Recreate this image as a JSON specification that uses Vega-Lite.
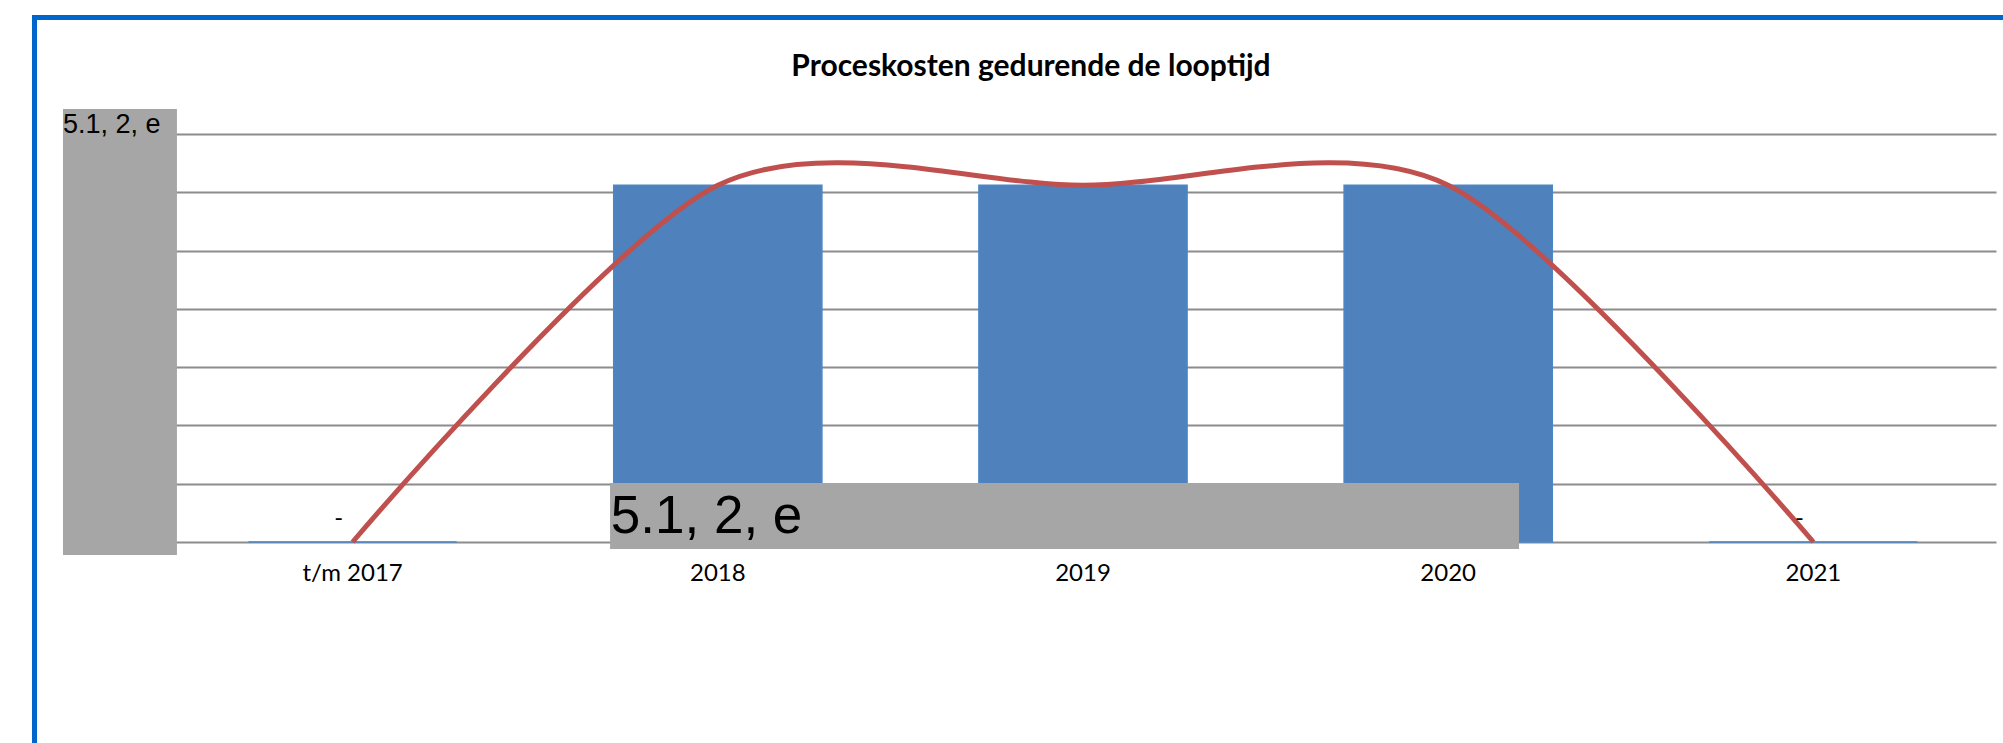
{
  "$schema": "https://vega.github.io/schema/vega-lite/v6.json",
  "width": 1826,
  "height": 408,
  "autosize": {"type": "none"},
  "padding": {"left": 170, "top": 134, "right": 7, "bottom": 201},
  "background": "white",
  "config": {"view": {"stroke": null}, "font": "Lato"},
  "title": {
    "text": "Proceskosten gedurende de looptijd",
    "font": "Lato",
    "fontSize": 30,
    "fontWeight": "bold",
    "color": "#000000",
    "anchor": "middle",
    "dx": -52,
    "offset": -67
  },
  "datasets": {
    "kosten": [
      {"jaar": "t/m 2017", "kosten": 0, "label": "-"},
      {"jaar": "2018", "kosten": 6.12, "label": ""},
      {"jaar": "2019", "kosten": 6.12, "label": ""},
      {"jaar": "2020", "kosten": 6.12, "label": ""},
      {"jaar": "2021", "kosten": 0, "label": "-"}
    ],
    "zwartlakking": [
      {"vak": "as", "x1": -0.793, "x2": -0.481, "y1": 7.428, "y2": -0.223, "tx": -0.793, "ty": 7.02, "tekst": "5.1, 2, e"},
      {"vak": "tabel", "x1": 0.705, "x2": 3.194, "y1": 1.012, "y2": -0.12, "tx": 0.707, "ty": 0.154, "tekst": "5.1, 2, e"}
    ],
    "kader": [{"x1": -0.871, "x2": 5.5, "y1": 9.0, "y2": -5}]
  },
  "layer": [
    {
      "data": {"name": "kosten"},
      "encoding": {
        "x": {
          "field": "jaar",
          "type": "nominal",
          "sort": null,
          "scale": {"paddingInner": 0.43, "paddingOuter": 0.215},
          "axis": {
            "title": null,
            "labelAngle": 0,
            "labelFont": "Lato",
            "labelFontSize": 24,
            "labelColor": "#000000",
            "ticks": false,
            "tickSize": 0,
            "domain": false,
            "labelPadding": 19,
            "labelBaseline": "top"
          }
        },
        "y": {
          "field": "kosten",
          "type": "quantitative",
          "scale": {"domain": [0, 7], "nice": false, "zero": true},
          "axis": {
            "title": null,
            "grid": true,
            "gridColor": "#8C8C8C",
            "gridWidth": 2,
            "labels": false,
            "ticks": false,
            "domain": false,
            "values": [0, 1, 2, 3, 4, 5, 6, 7]
          }
        }
      },
      "layer": [
        {
          "mark": {"type": "bar", "color": "#4F81BD", "stroke": "#4A86C8", "strokeWidth": 1.5}
        },
        {
          "mark": {"type": "line", "color": "#C0504D", "strokeWidth": 5, "interpolate": "cardinal", "tension": 0.15}
        },
        {
          "mark": {"type": "text", "font": "Lato", "fontSize": 24, "dx": -14, "dy": -16, "baseline": "alphabetic", "align": "center", "color": "#000000"},
          "encoding": {
            "text": {"field": "label"}
          }
        }
      ]
    },
    {
      "layer": [
        {
          "data": {"name": "zwartlakking"},
          "mark": {"type": "rect", "color": "#A6A6A6"},
          "encoding": {
            "x": {"field": "x1", "type": "quantitative", "scale": {"domain": [-0.5, 4.5], "nice": false, "zero": false}, "axis": null},
            "x2": {"field": "x2"},
            "y": {"field": "y1", "type": "quantitative", "scale": {"domain": [0, 7], "nice": false, "zero": false}, "axis": null},
            "y2": {"field": "y2"}
          }
        },
        {
          "data": {"name": "zwartlakking"},
          "transform": [{"filter": "datum.vak === 'as'"}],
          "mark": {"type": "text", "font": "Liberation Sans", "fontSize": 27, "align": "left", "baseline": "alphabetic", "color": "#000000"},
          "encoding": {
            "x": {"field": "tx", "type": "quantitative", "scale": {"domain": [-0.5, 4.5], "nice": false, "zero": false}, "axis": null},
            "y": {"field": "ty", "type": "quantitative", "scale": {"domain": [0, 7], "nice": false, "zero": false}, "axis": null},
            "text": {"field": "tekst"}
          }
        },
        {
          "data": {"name": "zwartlakking"},
          "transform": [{"filter": "datum.vak === 'tabel'"}],
          "mark": {"type": "text", "font": "Liberation Sans", "fontSize": 53, "align": "left", "baseline": "alphabetic", "color": "#000000"},
          "encoding": {
            "x": {"field": "tx", "type": "quantitative", "scale": {"domain": [-0.5, 4.5], "nice": false, "zero": false}, "axis": null},
            "y": {"field": "ty", "type": "quantitative", "scale": {"domain": [0, 7], "nice": false, "zero": false}, "axis": null},
            "text": {"field": "tekst"}
          }
        },
        {
          "data": {"name": "kader"},
          "mark": {"type": "rect", "filled": false, "color": "#0066CC", "strokeWidth": 5},
          "encoding": {
            "x": {"field": "x1", "type": "quantitative", "scale": {"domain": [-0.5, 4.5], "nice": false, "zero": false}, "axis": null},
            "x2": {"field": "x2"},
            "y": {"field": "y1", "type": "quantitative", "scale": {"domain": [0, 7], "nice": false, "zero": false}, "axis": null},
            "y2": {"field": "y2"}
          }
        }
      ]
    }
  ],
  "resolve": {"scale": {"x": "independent", "y": "independent"}, "axis": {"x": "independent", "y": "independent"}}
}
